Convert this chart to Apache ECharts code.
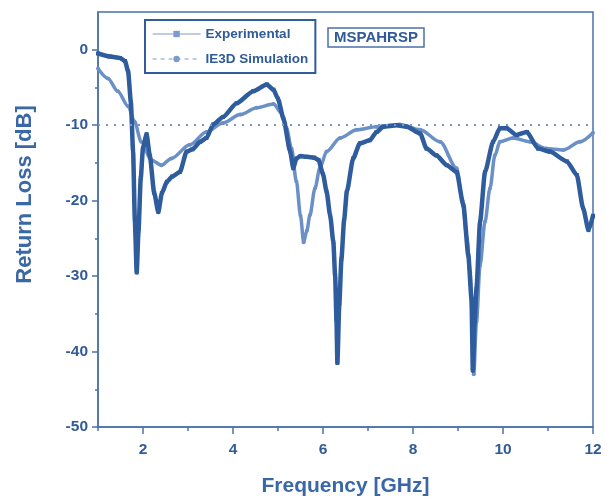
<!DOCTYPE html>
<html>
<head>
<meta charset="utf-8">
<script src="https://cdn.jsdelivr.net/npm/echarts@6/dist/echarts.min.js"></script>
<style>html,body{margin:0;padding:0;background:#fff}#c{width:607px;height:498px}</style>
</head>
<body>
<div id="c"></div>
<script>
// ---- data ----
const freqExp = [1.0,1.27,1.49,1.6,1.67,1.73,1.78,1.82,1.86,1.9,1.95,2.0,2.08,2.15,2.25,2.34,2.42,2.53,2.65,2.82,2.97,3.1,3.27,3.41,3.56,3.78,4.08,4.45,4.75,4.9,5.0,5.12,5.27,5.34,5.41,5.5,5.64,5.8,5.9,6.0,6.08,6.16,6.23,6.27,6.3,6.32,6.36,6.41,6.47,6.53,6.67,6.82,7.04,7.19,7.34,7.64,7.86,8.16,8.3,8.52,8.75,8.97,9.12,9.23,9.3,9.33,9.37,9.41,9.49,9.6,9.78,9.93,10.08,10.3,10.53,10.78,11.04,11.42,11.64,11.78,11.9,12.0];
const lossExp = [-0.5,-0.9,-1.1,-1.5,-2.9,-6.9,-13.5,-22.8,-29.5,-24,-17,-13,-11.2,-14,-19,-21.5,-19,-17.5,-16.8,-16.2,-13.5,-13.2,-12.2,-11.7,-9.9,-8.9,-7.1,-5.5,-4.6,-5.3,-6.5,-9.1,-13.5,-15.7,-14.4,-14.1,-14.2,-14.3,-14.6,-16.5,-18.8,-22,-25.5,-30,-36,-41.5,-34,-27.7,-22.5,-18.8,-14.4,-12.4,-12,-10.9,-10.2,-10,-10.2,-11.1,-13.1,-14,-15.3,-16.2,-20.6,-27.3,-33,-42.5,-36,-31.7,-22.8,-16.2,-12.2,-10.4,-10.4,-11.3,-10.9,-13.1,-13.5,-14.8,-16.6,-21,-23.9,-22];
const freqSim = [1.0,1.22,1.44,1.67,1.81,1.96,2.18,2.41,2.63,3.04,3.41,3.78,4.16,4.53,4.9,5.08,5.19,5.3,5.41,5.5,5.57,5.64,5.71,5.82,5.93,6.08,6.38,6.75,7.19,7.71,8.16,8.6,8.97,9.1,9.2,9.27,9.32,9.35,9.41,9.49,9.6,9.71,9.82,9.93,10.22,10.6,10.96,11.34,11.71,12.0];
const lossSim = [-2.5,-3.8,-5.5,-7.5,-9.5,-12.2,-14.6,-15.3,-14.4,-12.6,-10.9,-9.7,-8.6,-7.7,-7.2,-8.4,-10.4,-13.1,-17.5,-22,-25.5,-24,-21.9,-18.4,-15.7,-13.5,-11.7,-10.6,-10.2,-9.9,-10.6,-12.2,-15.7,-20,-25,-29.5,-36,-43,-36.1,-28.6,-22.8,-18.4,-14,-12.2,-11.7,-12.2,-13.1,-13.3,-12.2,-11];
const xTickLabels = [2,4,6,8,10,12];
const xMinorTicks = [1,3,5,7,9,11];
const yTickLabels = [-50,-40,-30,-20,-10,0];
const yMinorTicks = [-45,-35,-25,-15,-5];
const refLevel = -10;
const seriesNames = ['Experimental','IE3D Simulation'];
const badge = 'MSPAHRSP';

const zip = (a,b) => a.map((v,i)=>[v,b[i]]);
const FONT = 'Liberation Sans, Arial, sans-serif';
const TXT = '#2f5b98';
const AX = '#4a72ab';
const C_EXP = '#2e5c9c';
const C_SIM = '#6b90c6';

const chart = echarts.init(document.getElementById('c'));
chart.setOption({
  animation:false,
  backgroundColor:'#fff',
  grid:{left:98,right:14,top:12,bottom:71,containLabel:false,outerBoundsMode:'none',
    show:true,borderColor:AX,borderWidth:1.5,backgroundColor:'transparent'},
  title:{text:badge,left:328,top:28,padding:[2,6,2,6],borderColor:AX,borderWidth:1.5,
    textStyle:{fontFamily:FONT,fontWeight:'bold',fontSize:15,color:TXT}},
  legend:{left:145,top:20,orient:'vertical',padding:[7,7,7,7],itemGap:11,itemWidth:48,itemHeight:8,
    borderColor:C_EXP,borderWidth:2,
    textStyle:{fontFamily:FONT,fontWeight:'bold',fontSize:13.5,color:TXT,lineHeight:14},
    data:[
      {name:seriesNames[0],lineStyle:{type:'solid',width:1.2,color:'#7c9bcb'},itemStyle:{color:'#7c9bcb'}},
      {name:seriesNames[1],lineStyle:{type:[4,4],width:1.2,color:'#7c9bcb'},itemStyle:{color:'#7c9bcb'}}
    ]},
  xAxis:[{type:'value',min:1,max:12,
    name:'Frequency [GHz]',nameLocation:'middle',nameGap:49,
    nameTextStyle:{fontFamily:FONT,fontWeight:'bold',fontSize:21,color:'#3a68a6'},
    axisLine:{onZero:false,lineStyle:{color:AX,width:1.5}},
    axisTick:{customValues:xTickLabels,length:7,lineStyle:{color:AX,width:1.5}},
    axisLabel:{customValues:xTickLabels,margin:15,fontFamily:FONT,fontWeight:'bold',fontSize:15.5,color:TXT},
    splitLine:{show:false}},
   {type:'value',min:1,max:12,position:'bottom',
    axisLine:{show:false,onZero:false},
    axisTick:{customValues:xMinorTicks,length:4,lineStyle:{color:AX,width:1.5}},
    axisLabel:{show:false},splitLine:{show:false}}],
  yAxis:[{type:'value',min:-50,max:5,
    name:'Return Loss [dB]',nameLocation:'middle',nameGap:62,
    nameTextStyle:{fontFamily:FONT,fontWeight:'bold',fontSize:22,color:'#3a68a6',padding:[0,0,0,50]},
    axisLine:{onZero:false,lineStyle:{color:AX,width:1.5}},
    axisTick:{customValues:yTickLabels,length:6,lineStyle:{color:AX,width:1.5}},
    axisLabel:{customValues:yTickLabels,margin:10,fontFamily:FONT,fontWeight:'bold',fontSize:15.5,color:TXT},
    splitLine:{show:false}},
   {type:'value',min:-50,max:5,position:'left',
    axisLine:{show:false,onZero:false},
    axisTick:{customValues:yMinorTicks,length:3,lineStyle:{color:AX,width:1.5}},
    axisLabel:{show:false},splitLine:{show:false}}],
  series:[
    {name:seriesNames[1],type:'line',data:zip(freqSim,lossSim),smooth:0.3,smoothMonotone:'x',
      symbol:'circle',symbolSize:4,showSymbol:true,
      lineStyle:{color:C_SIM,width:3.5},itemStyle:{color:C_SIM},
      z:2},
    {name:seriesNames[0],type:'line',data:zip(freqExp,lossExp),smooth:0.2,smoothMonotone:'x',
      symbol:'rect',symbolSize:4,showSymbol:true,
      lineStyle:{color:C_EXP,width:4.5},itemStyle:{color:C_EXP},
      z:3,
      markLine:{silent:true,symbol:'none',label:{show:false},
        lineStyle:{color:'#7a98c6',type:[2,6],width:2},
        data:[{yAxis:refLevel}]}}
  ]
});
</script>
</body>
</html>
